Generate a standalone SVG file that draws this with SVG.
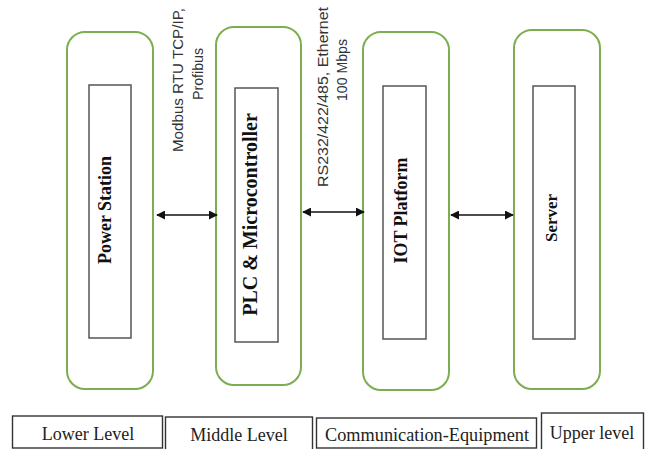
<svg xmlns="http://www.w3.org/2000/svg" width="647" height="449" viewBox="0 0 647 449">
  <style>
    .outer { fill: #ffffff; stroke: #7cae4f; stroke-width: 2; }
    .inner { fill: #ffffff; stroke: #555555; stroke-width: 1.5; }
    .title { font-family: "Liberation Serif", "Times New Roman", serif; font-weight: bold; fill: #111111; text-anchor: middle; }
    .proto { font-family: "Liberation Sans", Arial, sans-serif; font-size: 15px; fill: #333333; text-anchor: middle; }
    .level { fill: #ffffff; stroke: #333333; stroke-width: 1.4; }
    .lvltext { font-family: "Liberation Serif", "Times New Roman", serif; font-size: 18px; fill: #222222; text-anchor: middle; }
    .link { stroke: #111111; stroke-width: 1.5; fill: none; marker-start: url(#head); marker-end: url(#head); }
  </style>
  <defs>
    <marker id="head" viewBox="0 0 10 10" refX="9" refY="5" markerWidth="9" markerHeight="9" markerUnits="userSpaceOnUse" orient="auto-start-reverse">
      <path d="M0,0 L10,5 L0,10 Z" fill="#111111"/>
    </marker>
  </defs>
  <rect width="647" height="449" fill="#ffffff"/>

  <g id="power-station">
    <rect class="outer" x="67" y="32" width="86" height="357" rx="18"/>
    <rect class="inner" x="89" y="85" width="42" height="253"/>
    <text class="title" font-size="18" transform="translate(110.5,210) rotate(-90)">Power Station</text>
  </g>

  <g id="plc">
    <rect class="outer" x="216" y="27" width="85" height="358" rx="18"/>
    <rect class="inner" x="235" y="88" width="43" height="254"/>
    <text class="title" font-size="20" transform="translate(257,214.5) rotate(-90)">PLC &amp; Microcontroller</text>
  </g>

  <g id="iot-platform">
    <rect class="outer" x="363" y="32" width="86" height="358" rx="18"/>
    <rect class="inner" x="383" y="86" width="43" height="253"/>
    <text class="title" font-size="18" transform="translate(407,210.5) rotate(-90)">IOT Platform</text>
  </g>

  <g id="server">
    <rect class="outer" x="514" y="30" width="86" height="359" rx="18"/>
    <rect class="inner" x="533" y="86" width="42" height="253"/>
    <text class="title" font-size="17" transform="translate(557,218) rotate(-90)">Server</text>
  </g>

  <g id="connectors">
    <line class="link" x1="157" y1="215" x2="217" y2="215"/>
    <line class="link" x1="303" y1="212" x2="364" y2="212"/>
    <line class="link" x1="451" y1="215" x2="513" y2="215"/>
  </g>

  <g id="protocol-labels">
    <text class="proto" transform="translate(183,80) rotate(-90)" textLength="144" lengthAdjust="spacingAndGlyphs">Modbus RTU TCP/IP,</text>
    <text class="proto" transform="translate(203,74) rotate(-90)" textLength="52" lengthAdjust="spacingAndGlyphs">Profibus</text>
    <text class="proto" transform="translate(328,97) rotate(-90)" textLength="180" lengthAdjust="spacingAndGlyphs">RS232/422/485, Ethernet</text>
    <text class="proto" transform="translate(347,70) rotate(-90)" textLength="62" lengthAdjust="spacingAndGlyphs">100 Mbps</text>
  </g>

  <g id="level-lower">
    <rect class="level" x="12.5" y="416" width="150" height="32"/>
    <text class="lvltext" x="88" y="440">Lower Level</text>
  </g>
  <g id="level-middle">
    <rect class="level" x="165.5" y="417" width="147" height="33"/>
    <text class="lvltext" x="239" y="441">Middle Level</text>
  </g>
  <g id="level-communication">
    <rect class="level" x="316.5" y="418" width="220" height="30"/>
    <text class="lvltext" x="427" y="441" font-size="17" textLength="204" lengthAdjust="spacingAndGlyphs">Communication-Equipment</text>
  </g>
  <g id="level-upper">
    <rect class="level" x="541.5" y="413" width="102" height="37"/>
    <text class="lvltext" x="592" y="439">Upper level</text>
  </g>
</svg>
